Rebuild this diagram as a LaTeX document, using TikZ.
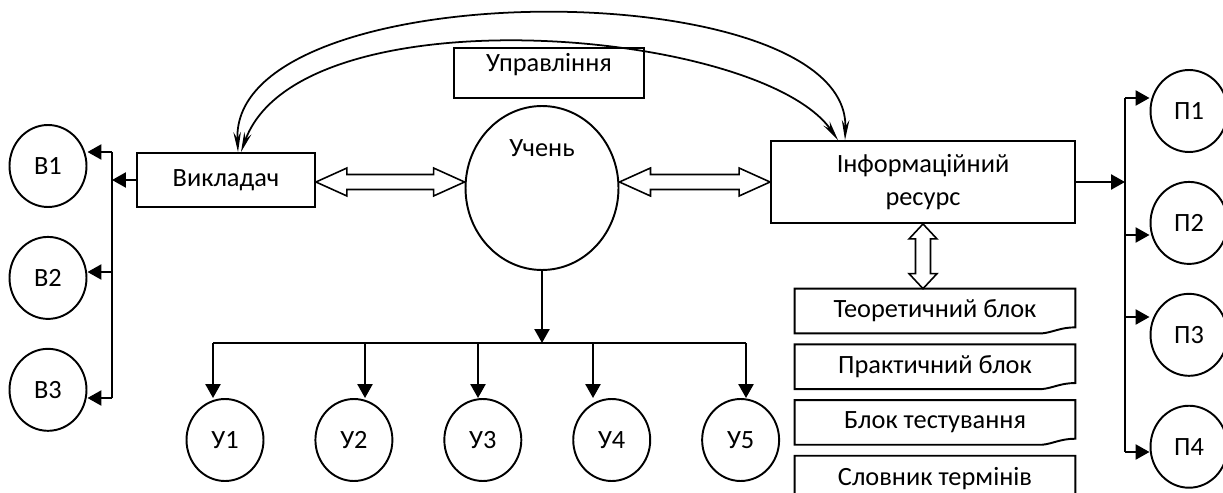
\documentclass[tikz,border=0pt]{standalone}
\usepackage{fontspec}
\setmainfont{Carlito}
\usepackage{tikz}
\usetikzlibrary{arrows.meta,positioning,shapes.geometric,calc}

% hollow double arrows: #1 first tip, #2 second tip, #3 head length
\newcommand\dblarrH[3]{%
  \draw[line width=0.9pt, fill=white] #1 -- ++(#3,-14) -- ++(0,6.5) -- ($#2+(-#3,-7.5)$) -- ++(0,-6.5)
    -- #2 -- ++(-#3,14) -- ++(0,-6.5) -- ($#1+(#3,7.5)$) -- ++(0,6.5) -- cycle;}
\newcommand\dblarrV[3]{%
  \draw[line width=0.9pt, fill=white] #1 -- ++(-14,#3) -- ++(6.5,0) -- ($#2+(-7.5,-#3)$) -- ++(-6.5,0)
    -- #2 -- ++(14,-#3) -- ++(-6.5,0) -- ($#1+(7.5,#3)$) -- ++(6.5,0) -- cycle;}

\begin{document}
\begin{tikzpicture}[
  x=0.02cm, y=-0.02cm,
  font=\fontsize{15}{18.8}\selectfont,
  blk/.style={rectangle, draw, line width=1.1pt, inner sep=0pt, align=center},
  circ/.style={ellipse, draw, line width=1.1pt, inner sep=0pt,
               minimum width=1.54cm, minimum height=1.64cm},
  doc/.style={rectangle, inner sep=0pt, minimum width=5.6cm, minimum height=0.88cm},
  arr/.style={-{Triangle[length=0.28cm,width=0.3cm]}, line width=1.4pt},
  curv/.style={{Stealth[length=0.4cm,width=0.15cm]}-{Stealth[length=0.4cm,width=0.15cm]},
               line width=1pt},
]
\useasboundingbox (0,0) rectangle (1223,493);

% Teacher side
\node[blk, minimum width=3.56cm, minimum height=1.08cm] (vkl) at (226,180) {Викладач};
\node[circ] (b1) at (48,166) {В1};
\node[circ, below=0.56cm of b1] (b2) {В2};
\node[circ, below=0.56cm of b2] (b3) {В3};
\coordinate (vbus) at (112,180);

% Centre
\node[ellipse, draw, line width=1.1pt, inner sep=0pt, minimum width=3.06cm, minimum height=3.28cm,
      label={[anchor=center,yshift=-0.86cm]90:Учень}] (uchen) at (542,188) {};
\node[blk, minimum width=3.8cm, minimum height=1cm,
      label={[anchor=center,yshift=-0.36cm]90:Управління}] (upr) at (549,73) {};

% Pupils
\node[circ] (u1) at (225,440) {У1};
\node[circ, right=1cm of u1] (u2) {У2};
\node[circ, right=1cm of u2] (u3) {У3};
\node[circ, right=1cm of u3] (u4) {У4};
\node[circ, right=1cm of u4] (u5) {У5};
\coordinate (ubus) at (542,343);

% Information resource
\node[blk, minimum width=6.08cm, minimum height=1.64cm] (info) at (923,182) {Інформаційний\\ресурс};
\node[doc] (d1) at (935,311) {Теоретичний блок};
\node[doc, below=0.22cm of d1] (d2) {Практичний блок};
\node[doc, below=0.22cm of d2] (d3) {Блок тестування};
\node[doc, below=0.22cm of d3] (d4) {Словник термінів};
\foreach \d in {d1,d2,d3,d4}
  \draw[line width=1.1pt] (\d.south west) -- (\d.north west) -- (\d.north east) -- ([yshift=0.12cm]\d.south east)
    .. controls ([xshift=-0.3cm,yshift=0.12cm]\d.south east) and ([xshift=-0.45cm,yshift=0.02cm]\d.south east)
    .. ([xshift=-0.66cm]\d.south east) -- cycle;

\node[circ] (p1) at (1189,111) {П1};
\node[circ, below=0.56cm of p1] (p2) {П2};
\node[circ, below=0.56cm of p2] (p3) {П3};
\node[circ, below=0.56cm of p3] (p4) {П4};
\coordinate (pbus) at (1125,182);

% Double arrows
\dblarrH{(vkl.east |- 0,182)}{(uchen.west |- 0,182)}{31}
\dblarrH{(uchen.east |- 0,182)}{(info.west |- 0,182)}{31}
\dblarrV{(info.south)}{(d1.north -| info.south)}{15}

% Curved links
\draw[curv] ([xshift=0.24cm]vkl.north) .. controls (230,-29) and (850,-29) .. ([xshift=-1.56cm]info.north);
\draw[curv] ([xshift=0.3cm]vkl.north) .. controls (300,-10) and (760,28) .. ([xshift=-1.7cm]info.north);

% Branches
\draw[arr] (vkl.west) -- (vkl.west -| vbus);
\draw[line width=1.4pt] (vbus |- 0,152) -- (vbus |- 0,398);
\foreach \n/\y in {b1/152, b2/272, b3/398}
  \draw[arr] (vbus |- 0,\y) -- (\n.east |- 0,\y);

\draw[arr] (uchen.south) -- (uchen.south |- ubus);
\draw[line width=1.4pt] (ubus -| 213,0) -- (ubus -| 746,0);
\foreach \n/\x in {u1/213, u2/365, u3/478, u4/593, u5/746}
  \draw[arr] (ubus -| \x,0) -- (\n.north -| \x,0);

\draw[arr] (info.east) -- (info.east -| pbus);
\draw[line width=1.4pt] (pbus |- 0,98) -- (pbus |- 0,452);
\foreach \n/\y in {p1/98, p2/235, p3/317, p4/452}
  \draw[arr] (pbus |- 0,\y) -- (\n.west |- 0,\y);

\end{tikzpicture}
\end{document}
